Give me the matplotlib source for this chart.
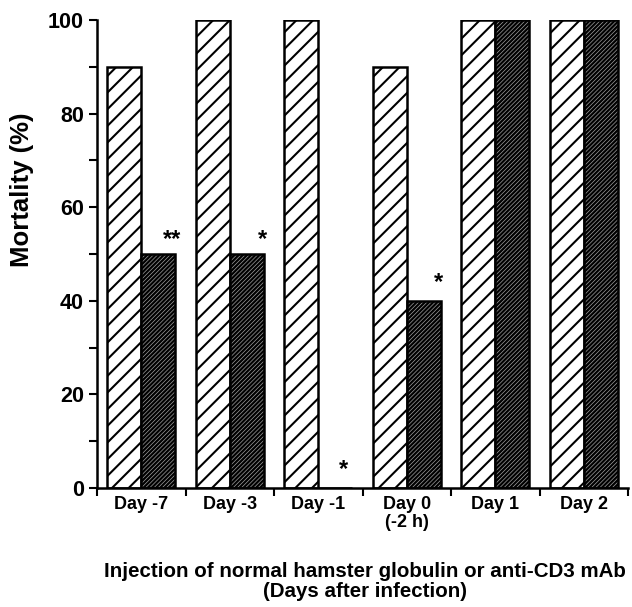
import numpy as np
import matplotlib
matplotlib.use("Agg")
import matplotlib.pyplot as plt

plt.rcParams['font.family'] = ['Liberation Sans', 'DejaVu Sans']
plt.rcParams['font.weight'] = 'bold'

# data
days = ['Day -7', 'Day -3', 'Day -1', 'Day 0\n(-2 h)', 'Day 1', 'Day 2']
control = [90, 100, 100, 90, 100, 100]     # normal hamster globulin
anti_cd3 = [50, 50, 0, 40, 100, 100]       # anti-CD3 mAb
stars = ['**', '*', '*', '*', '', '']
star_y = [53, 53, 4, 44, 0, 0]
star_dx = [0.35, 0.37, 0.28, 0.36, 0, 0]

x = np.arange(len(days))
w = 0.385

fig = plt.figure(figsize=(6.32, 6.07), dpi=100)
ax = fig.add_axes([0.1535, 0.196, 0.8402, 0.771])

plt.rcParams['hatch.linewidth'] = 1.5
ax.bar(x - w/2, control, w, facecolor='white', edgecolor='black',
       hatch='//', linewidth=1.8, zorder=2)

# dark bars: black fill with fine light hatching, black outline on top
plt.rcParams['hatch.linewidth'] = 0.5
ax.bar(x + w/2, anti_cd3, w, facecolor='black', edgecolor='#a0a0a0',
       hatch='////////', linewidth=0, zorder=2)
ax.bar(x + w/2, anti_cd3, w, fill=False, edgecolor='black',
       linewidth=1.8, zorder=3)

for i in range(len(days)):
    if stars[i]:
        ax.text(x[i] + star_dx[i], star_y[i], stars[i], ha='center', va='center',
                fontsize=17, fontweight='bold')

ax.set_xlim(-0.5, len(days) - 0.5)
ax.set_ylim(0, 100)
ax.set_xticks(np.arange(len(days) + 1) - 0.5)
ax.set_xticklabels([])
ax.set_xticks(x, minor=True)
ax.set_xticklabels(days, minor=True, fontsize=13, fontweight='bold', linespacing=1.05)
ax.tick_params(axis='x', which='major', length=6, width=1.5, direction='out')
ax.tick_params(axis='x', which='minor', length=0, pad=6)

ax.set_yticks(np.arange(0, 101, 20))
ax.set_yticks(np.arange(10, 100, 20), minor=True)
ax.tick_params(axis='y', which='both', length=6, width=1.5, labelsize=15.5)
for lab in ax.get_yticklabels():
    lab.set_fontweight('bold')

for s in ['top', 'right']:
    ax.spines[s].set_visible(False)
for s in ['left', 'bottom']:
    ax.spines[s].set_linewidth(1.8)

fig.text(22 / 632, 1 - 190 / 607, 'Mortality (%)', rotation=90, ha='center', va='center',
         fontsize=18.5, fontweight='bold')
ax.set_xlabel('Injection of normal hamster globulin or anti-CD3 mAb\n(Days after infection)',
              fontsize=14.8, fontweight='bold', labelpad=22, linespacing=1.12)
ax.xaxis.label.set_x(0.505)

fig.savefig('out.png', dpi=100)
